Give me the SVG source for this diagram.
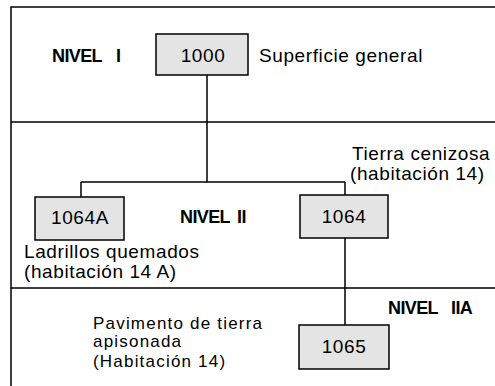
<svg xmlns="http://www.w3.org/2000/svg" width="495" height="386" viewBox="0 0 495 386">
<style>
.frame{fill:none;stroke:#000;stroke-width:1.5}
.box{fill:#e4e4e4;stroke:#000;stroke-width:1.5}
.conn{fill:none;stroke:#000;stroke-width:1.5}
.t{font-family:"Liberation Sans",Arial,sans-serif;font-size:19px;fill:#000;letter-spacing:0.6px}
.s{font-size:17px;letter-spacing:1.2px}
.num{text-anchor:middle}
.lvl{font-family:"Liberation Sans",Arial,sans-serif;font-size:18px;font-weight:bold;fill:#000;letter-spacing:-0.6px}
</style>
<rect width="495" height="386" fill="#fff"/>
<g id="frame">
<path class="frame" d="M11,386 V7 H495 M11,122 H495 M11,288 H495"/>
</g>
<g id="connectors">
<path class="conn" d="M207,75 V182 M81,182 H345 M81,182 V197 M345,182 V195 M345,238 V325"/>
</g>
<g id="n1000">
<rect class="box" x="156" y="34" width="92" height="41"/>
<text class="t num" x="203" y="62">1000</text>
</g>
<g id="n1064A">
<rect class="box" x="35" y="197" width="89" height="43"/>
<text class="t num" x="80" y="224">1064A</text>
</g>
<g id="n1064">
<rect class="box" x="300" y="195" width="88" height="43"/>
<text class="t num" x="344" y="223">1064</text>
</g>
<g id="n1065">
<rect class="box" x="299" y="325" width="90" height="44"/>
<text class="t num" x="344" y="353">1065</text>
</g>
<g id="labels">
<text class="lvl" x="52" y="62">NIVEL<tspan x="116">I</tspan></text>
<text class="lvl" x="180" y="223">NIVEL<tspan x="237">II</tspan></text>
<text class="lvl" x="388" y="314">NIVEL<tspan x="451">IIA</tspan></text>
<text class="t" x="259" y="62">Superficie general</text>
<text class="t" x="352" y="160">Tierra cenizosa</text>
<text class="t" x="350" y="180">(habitación 14)</text>
<text class="t" x="24" y="258">Ladrillos quemados</text>
<text class="t" x="24" y="278">(habitación 14 A)</text>
<text class="t s" x="93" y="329">Pavimento de tierra</text>
<text class="t s" x="93" y="347">apisonada</text>
<text class="t s" x="93" y="367">(Habitación 14)</text>
</g>
</svg>
